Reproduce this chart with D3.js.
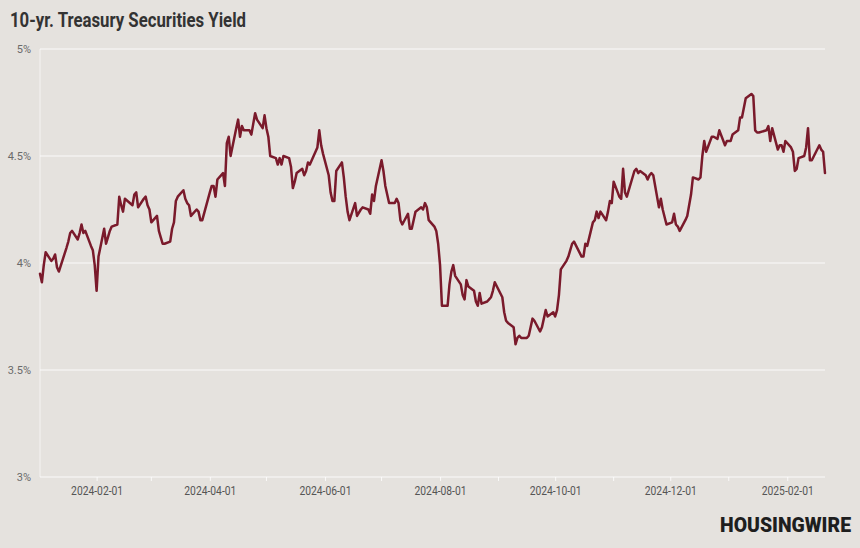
<!DOCTYPE html>
<html>
<head>
<meta charset="utf-8">
<script src="https://cdn.jsdelivr.net/npm/d3@7"></script>
<style>
  html, body { margin: 0; padding: 0; background: #e5e2de; }
  svg { display: block; }
</style>
</head>
<body>
<svg id="chart" width="860" height="548"></svg>
<script>
const title = "10-yr. Treasury Securities Yield";
const brand = "HOUSINGWIRE";

// Trading days (YYYY-MM-DD) and 10-yr yield values (%)
const dates = [
"2024-01-02","2024-01-03","2024-01-04","2024-01-05","2024-01-08","2024-01-09","2024-01-10","2024-01-11","2024-01-12","2024-01-16","2024-01-17","2024-01-18","2024-01-19","2024-01-22","2024-01-23","2024-01-24","2024-01-25","2024-01-26","2024-01-29","2024-01-30","2024-01-31",
"2024-02-01","2024-02-02","2024-02-05","2024-02-06","2024-02-07","2024-02-08","2024-02-09","2024-02-12","2024-02-13","2024-02-14","2024-02-15","2024-02-16","2024-02-20","2024-02-21","2024-02-22","2024-02-23","2024-02-26","2024-02-27","2024-02-28","2024-02-29",
"2024-03-01","2024-03-04","2024-03-05","2024-03-06","2024-03-07","2024-03-08","2024-03-11","2024-03-12","2024-03-13","2024-03-14","2024-03-15","2024-03-18","2024-03-19","2024-03-20","2024-03-21","2024-03-22","2024-03-25","2024-03-26","2024-03-27","2024-03-28",
"2024-04-01","2024-04-02","2024-04-03","2024-04-04","2024-04-05","2024-04-08","2024-04-09","2024-04-10","2024-04-11","2024-04-12","2024-04-15","2024-04-16","2024-04-17","2024-04-18","2024-04-19","2024-04-22","2024-04-23","2024-04-24","2024-04-25","2024-04-26","2024-04-29","2024-04-30",
"2024-05-01","2024-05-02","2024-05-03","2024-05-06","2024-05-07","2024-05-08","2024-05-09","2024-05-10","2024-05-13","2024-05-14","2024-05-15","2024-05-16","2024-05-17","2024-05-20","2024-05-21","2024-05-22","2024-05-23","2024-05-24","2024-05-28","2024-05-29","2024-05-30","2024-05-31",
"2024-06-03","2024-06-04","2024-06-05","2024-06-06","2024-06-07","2024-06-10","2024-06-11","2024-06-12","2024-06-13","2024-06-14","2024-06-17","2024-06-18","2024-06-20","2024-06-21","2024-06-24","2024-06-25","2024-06-26","2024-06-27","2024-06-28",
"2024-07-01","2024-07-02","2024-07-03","2024-07-05","2024-07-08","2024-07-09","2024-07-10","2024-07-11","2024-07-12","2024-07-15","2024-07-16","2024-07-17","2024-07-18","2024-07-19","2024-07-22","2024-07-23","2024-07-24","2024-07-25","2024-07-26","2024-07-29","2024-07-30","2024-07-31",
"2024-08-01","2024-08-02","2024-08-05","2024-08-06","2024-08-07","2024-08-08","2024-08-09","2024-08-12","2024-08-13","2024-08-14","2024-08-15","2024-08-16","2024-08-19","2024-08-20","2024-08-21","2024-08-22","2024-08-23","2024-08-26","2024-08-27","2024-08-28","2024-08-29","2024-08-30",
"2024-09-03","2024-09-04","2024-09-05","2024-09-06","2024-09-09","2024-09-10","2024-09-11","2024-09-12","2024-09-13","2024-09-16","2024-09-17","2024-09-18","2024-09-19","2024-09-20","2024-09-23","2024-09-24","2024-09-25","2024-09-26","2024-09-27","2024-09-30",
"2024-10-01","2024-10-02","2024-10-03","2024-10-04","2024-10-07","2024-10-08","2024-10-09","2024-10-10","2024-10-11","2024-10-15","2024-10-16","2024-10-17","2024-10-18","2024-10-21","2024-10-22","2024-10-23","2024-10-24","2024-10-25","2024-10-28","2024-10-29","2024-10-30","2024-10-31",
"2024-11-01","2024-11-04","2024-11-05","2024-11-06","2024-11-07","2024-11-08","2024-11-12","2024-11-13","2024-11-14","2024-11-15","2024-11-18","2024-11-19","2024-11-20","2024-11-21","2024-11-22","2024-11-25","2024-11-26","2024-11-27","2024-11-29",
"2024-12-02","2024-12-03","2024-12-04","2024-12-05","2024-12-06","2024-12-09","2024-12-10","2024-12-11","2024-12-12","2024-12-13","2024-12-16","2024-12-17","2024-12-18","2024-12-19","2024-12-20","2024-12-23","2024-12-24","2024-12-26","2024-12-27","2024-12-30","2024-12-31",
"2025-01-02","2025-01-03","2025-01-06","2025-01-07","2025-01-08","2025-01-10","2025-01-13","2025-01-14","2025-01-15","2025-01-16","2025-01-17","2025-01-21","2025-01-22","2025-01-23","2025-01-24","2025-01-27","2025-01-28","2025-01-29","2025-01-30","2025-01-31",
"2025-02-03","2025-02-04","2025-02-05","2025-02-06","2025-02-07","2025-02-10","2025-02-11","2025-02-12","2025-02-13","2025-02-14","2025-02-18","2025-02-19","2025-02-20","2025-02-21"
];
const yields = [
3.95,3.91,3.99,4.05,4.01,4.02,4.04,3.98,3.96,4.07,4.10,4.14,4.15,4.11,4.14,4.18,4.14,4.15,4.08,4.06,3.99,
3.87,4.03,4.16,4.09,4.12,4.15,4.17,4.18,4.31,4.27,4.24,4.30,4.27,4.32,4.33,4.26,4.30,4.31,4.27,4.25,
4.19,4.22,4.15,4.12,4.09,4.09,4.10,4.16,4.19,4.29,4.31,4.34,4.30,4.28,4.27,4.22,4.25,4.24,4.20,4.20,
4.33,4.36,4.36,4.31,4.39,4.42,4.36,4.56,4.59,4.50,4.63,4.67,4.59,4.64,4.62,4.62,4.60,4.65,4.70,4.67,4.63,4.69,
4.63,4.59,4.50,4.49,4.46,4.49,4.46,4.50,4.49,4.45,4.35,4.38,4.42,4.44,4.41,4.43,4.47,4.46,4.54,4.62,4.55,4.51,
4.41,4.33,4.29,4.29,4.43,4.47,4.40,4.31,4.24,4.20,4.28,4.22,4.25,4.26,4.25,4.23,4.32,4.29,4.36,
4.48,4.43,4.36,4.28,4.28,4.30,4.28,4.20,4.18,4.23,4.16,4.16,4.20,4.24,4.26,4.25,4.28,4.26,4.20,4.17,4.15,4.09,
3.99,3.80,3.80,3.90,3.96,3.99,3.94,3.90,3.85,3.83,3.92,3.89,3.87,3.82,3.80,3.86,3.81,3.82,3.83,3.84,3.87,3.91,
3.84,3.77,3.73,3.72,3.70,3.62,3.65,3.66,3.65,3.65,3.66,3.70,3.74,3.73,3.68,3.70,3.74,3.78,3.75,3.77,
3.75,3.78,3.85,3.97,4.01,4.03,4.06,4.09,4.10,4.03,4.03,4.09,4.08,4.19,4.20,4.24,4.21,4.24,4.20,4.24,4.29,4.28,
4.38,4.31,4.30,4.44,4.33,4.31,4.43,4.44,4.42,4.43,4.41,4.39,4.41,4.42,4.41,4.26,4.30,4.25,4.18,
4.19,4.23,4.18,4.17,4.15,4.20,4.22,4.27,4.32,4.40,4.39,4.40,4.50,4.57,4.52,4.59,4.59,4.58,4.62,4.55,4.57,
4.57,4.60,4.62,4.68,4.68,4.77,4.79,4.78,4.62,4.61,4.61,4.62,4.64,4.57,4.63,4.53,4.55,4.55,4.52,4.57,
4.54,4.52,4.43,4.44,4.49,4.50,4.54,4.63,4.48,4.48,4.55,4.53,4.52,4.42
];
const yTicks = [3, 3.5, 4, 4.5, 5];
const yTickLabels = ["3%", "3.5%", "4%", "4.5%", "5%"];
const xTickDates = ["2024-02-01","2024-04-01","2024-06-01","2024-08-01","2024-10-01","2024-12-01","2025-02-01"];
const xMinorDates = ["2024-03-01","2024-05-01","2024-07-01","2024-09-01","2024-11-01","2025-01-01"];

const parse = d3.utcParse("%Y-%m-%d");
const data = dates.map((d, i) => ({ date: parse(d), value: yields[i] }));

const svg = d3.select("#chart");
const W = 860, H = 548;
svg.append("rect").attr("width", W).attr("height", H).attr("fill", "#e5e2de");

const margin = { left: 40, right: 35, top: 49, bottom: 71 };
const x = d3.scaleUtc()
  .domain([parse("2024-01-02"), parse("2025-02-21")])
  .range([margin.left, W - margin.right]);
const y = d3.scaleLinear().domain([3, 5]).range([H - margin.bottom, margin.top]);

// Title
svg.append("text")
  .attr("x", 10).attr("y", 27)
  .attr("font-family", "Roboto, 'Noto Sans', sans-serif")
  .attr("font-weight", 700)
  .attr("font-size", 19.5)
  .attr("fill", "#333")
  .attr("textLength", 236)
  .attr("lengthAdjust", "spacingAndGlyphs")
  .text(title);

// Horizontal grid lines
const grid = svg.append("g");
grid.selectAll("line").data(yTicks).join("line")
  .attr("x1", margin.left).attr("x2", W - margin.right)
  .attr("y1", d => y(d)).attr("y2", d => y(d))
  .attr("stroke", "#ffffff").attr("stroke-opacity", 0.85).attr("stroke-width", 1);

// Left axis line
svg.append("line")
  .attr("x1", margin.left).attr("x2", margin.left)
  .attr("y1", y(5)).attr("y2", y(3))
  .attr("stroke", "#ffffff").attr("stroke-opacity", 0.6);

// Y axis labels
const yAxis = d3.axisLeft(y).tickValues(yTicks)
  .tickFormat((d, i) => yTickLabels[i]).tickSize(0).tickPadding(9);
const gy = svg.append("g").attr("transform", `translate(${margin.left},0)`).call(yAxis);
gy.select(".domain").remove();
gy.selectAll("text")
  .attr("font-family", "Roboto, 'Noto Sans', sans-serif")
  .attr("font-size", 11)
  .attr("fill", "#6a6a6a");

// X axis
const xAxis = d3.axisBottom(x)
  .tickValues(xTickDates.map(parse))
  .tickFormat(d3.utcFormat("%Y-%m-%d"))
  .tickSize(4).tickPadding(5);
const gx = svg.append("g").attr("transform", `translate(0,${y(3)})`).call(xAxis);
gx.select(".domain").remove();
gx.selectAll("line").attr("stroke", "#ffffff").attr("stroke-opacity", 0.8);
gx.selectAll("text")
  .attr("font-family", "Roboto, 'Noto Sans', sans-serif")
  .attr("font-size", 12)
  .attr("fill", "#555")
  .attr("textLength", 52)
  .attr("lengthAdjust", "spacingAndGlyphs");

svg.append("g").selectAll("line").data(xMinorDates.map(parse)).join("line")
  .attr("x1", d => x(d)).attr("x2", d => x(d))
  .attr("y1", y(3)).attr("y2", y(3) + 4)
  .attr("stroke", "#ffffff").attr("stroke-opacity", 0.8);

// Line
const line = d3.line().x(d => x(d.date)).y(d => y(d.value)).curve(d3.curveLinear);
svg.append("path")
  .datum(data)
  .attr("d", line)
  .attr("fill", "none")
  .attr("stroke", "#7a1a2b")
  .attr("stroke-width", 2.5)
  .attr("stroke-linejoin", "round")
  .attr("stroke-linecap", "round");

// Brand
svg.append("text")
  .attr("x", 851).attr("y", 532)
  .attr("text-anchor", "end")
  .attr("font-family", "Roboto, 'Noto Sans', sans-serif")
  .attr("font-weight", 900)
  .attr("font-size", 20)
  .attr("fill", "#1e1e1e")
  .attr("textLength", 131)
  .attr("lengthAdjust", "spacingAndGlyphs")
  .text(brand);
</script>
</body>
</html>
